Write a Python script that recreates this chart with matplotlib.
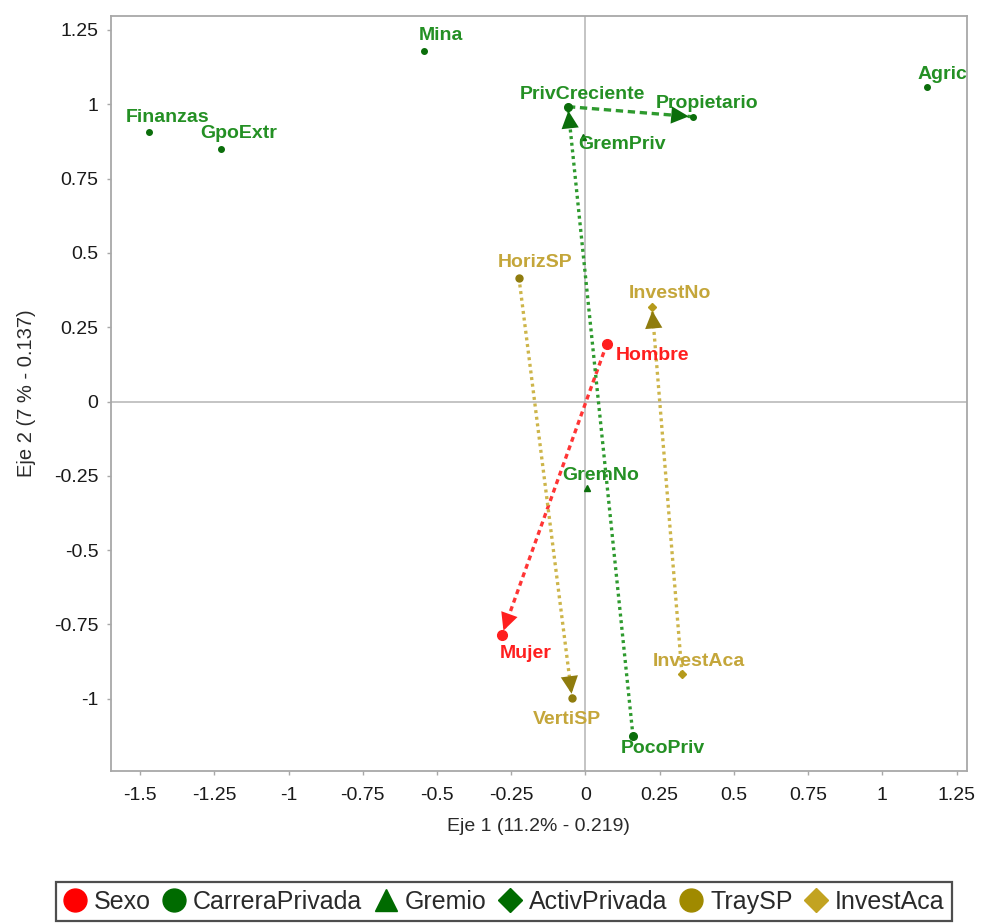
import matplotlib
matplotlib.use('Agg')
import matplotlib.pyplot as plt
from matplotlib.lines import Line2D
from matplotlib.ticker import MultipleLocator, FuncFormatter

plt.rcParams['font.family'] = ['Liberation Sans', 'DejaVu Sans']
plt.rcParams['axes.unicode_minus'] = False

# coordenadas de las modalidades (eje 1, eje 2)
sexo_names = ['Hombre', 'Mujer']
sexo_x = [0.072, -0.281]
sexo_y = [0.194, -0.784]

carrera_names = ['PrivCreciente', 'PocoPriv']
carrera_x = [-0.059, 0.160]
carrera_y = [0.992, -1.125]

gremio_names = ['GremPriv', 'GremNo']
gremio_x = [-0.008, 0.005]
gremio_y = [0.891, -0.290]

activ_names = ['Finanzas', 'GpoExtr', 'Mina', 'Propietario', 'Agric']
activ_x = [-1.470, -1.227, -0.544, 0.362, 1.150]
activ_y = [0.907, 0.850, 1.180, 0.958, 1.059]

tray_names = ['HorizSP', 'VertiSP']
tray_x = [-0.224, -0.045]
tray_y = [0.416, -0.997]

invest_names = ['InvestNo', 'InvestAca']
invest_x = [0.224, 0.325]
invest_y = [0.319, -0.916]

# trayectorias (desde, hasta)
paths = [('Hombre', 'Mujer'), ('PocoPriv', 'PrivCreciente'),
         ('PrivCreciente', 'Propietario'), ('HorizSP', 'VertiSP'),
         ('InvestAca', 'InvestNo')]

legend_names = ['Sexo', 'CarreraPrivada', 'Gremio', 'ActivPrivada', 'TraySP', 'InvestAca']

RED = '#ff1f1f'
GREEN = '#0b6e0b'
GREEN_TXT = '#249024'
OLIVE = '#8f7c0e'
OLIVE2 = '#b59a1c'
OLIVE_TXT = '#c4a63a'

# label offsets in pixels (label centre - point)
label_off = {'Finanzas': (19, 14), 'GpoExtr': (18, 15), 'Mina': (17, 15),
             'PrivCreciente': (14, 12), 'Propietario': (14, 13), 'Agric': (16, 12),
             'GremPriv': (39, -8), 'HorizSP': (16, 15), 'InvestNo': (18, 13),
             'Hombre': (46, -12), 'GremNo': (14, 12), 'Mujer': (24, -19),
             'InvestAca': (17, 12), 'VertiSP': (-5, -22), 'PocoPriv': (30, -13)}

groups = [
    (sexo_names, sexo_x, sexo_y, 'o', 7, RED, RED),
    (carrera_names, carrera_x, carrera_y, 'o', 5.5, GREEN, GREEN_TXT),
    (gremio_names, gremio_x, gremio_y, '^', 5, GREEN, GREEN_TXT),
    (activ_names, activ_x, activ_y, 'o', 4, GREEN, GREEN_TXT),
    (tray_names, tray_x, tray_y, 'o', 5, OLIVE, OLIVE_TXT),
    (invest_names, invest_x, invest_y, 'D', 4, OLIVE2, OLIVE_TXT),
]

pos = {}
for names, xs, ys, m, ms, c, tc in groups:
    for n, x, y in zip(names, xs, ys):
        pos[n] = (x, y, c)

path_style = {'Hombre': ('#ff3535', (0, (1.5, 1.2))),
              'PocoPriv': ('#2e9a2e', (0, (0.9, 1.1))),
              'PrivCreciente': ('#2e9a2e', (0, (2.2, 1.4))),
              'HorizSP': ('#cdb54a', (0, (0.9, 1.1))),
              'InvestAca': ('#cdb54a', (0, (0.9, 1.1)))}
head_col = {'Hombre': RED, 'PocoPriv': GREEN, 'PrivCreciente': GREEN,
            'HorizSP': OLIVE, 'InvestAca': OLIVE}

fig = plt.figure(figsize=(9.81, 9.23), dpi=100)
ax = fig.add_axes([110.7 / 981, (923 - 771) / 923, (967 - 110.7) / 981, (771 - 15.7) / 923])

ax.axhline(0, color='#b4b4b4', lw=1.1, zorder=1)
ax.axvline(0, color='#b4b4b4', lw=1.1, zorder=1)

for a, b in paths:
    x0, y0, _ = pos[a]
    x1, y1, _ = pos[b]
    col, ls = path_style[a]
    ax.plot([x0, x1], [y0, y1], color=col, lw=2.4, linestyle=ls, zorder=2)
    ax.annotate('', xy=(x1, y1), xytext=(x0, y0),
                arrowprops=dict(arrowstyle='-|>,head_length=0.55,head_width=0.27',
                                color=head_col[a], lw=0, shrinkA=0, shrinkB=3,
                                mutation_scale=23), zorder=3)

for names, xs, ys, m, ms, c, tc in groups:
    ax.plot(xs, ys, linestyle='none', marker=m, markersize=ms, color=c, zorder=4)
    for n, x, y in zip(names, xs, ys):
        ax.annotate(n, (x, y), xytext=label_off[n], textcoords='offset pixels',
                    ha='center', va='center', fontsize=14, fontweight='bold',
                    color=tc, zorder=5)

ax.set_xlim(-1.599, 1.285)
ax.set_ylim(-1.243, 1.298)
ax.xaxis.set_major_locator(MultipleLocator(0.25))
ax.yaxis.set_major_locator(MultipleLocator(0.25))
fmt = FuncFormatter(lambda v, p: '%g' % round(v, 2))
ax.xaxis.set_major_formatter(fmt)
ax.yaxis.set_major_formatter(fmt)

for s in ax.spines.values():
    s.set_color('#a8a8a8')
    s.set_linewidth(1.3)
ax.tick_params(direction='out', length=3.2, width=1, color='#a8a8a8',
               labelsize=14, labelcolor='#1a1a1a')
ax.tick_params(axis='x', pad=8.5)
ax.tick_params(axis='y', pad=5.5)

ax.set_xlabel('Eje 1 (11.2% - 0.219)', fontsize=14, color='#2a2a2a', labelpad=10)
ax.set_ylabel('Eje 2 (7 % - 0.137)', fontsize=14.5, color='#2a2a2a', labelpad=13)

legend_handles = [
    Line2D([], [], linestyle='none', marker='o', markersize=16.5, color='#ff0000'),
    Line2D([], [], linestyle='none', marker='o', markersize=16.5, color='#006b00'),
    Line2D([], [], linestyle='none', marker='^', markersize=16.5, color='#006b00'),
    Line2D([], [], linestyle='none', marker='D', markersize=12, color='#006b00'),
    Line2D([], [], linestyle='none', marker='o', markersize=16.5, color='#a08a00'),
    Line2D([], [], linestyle='none', marker='D', markersize=12, color='#c2a321'),
]
leg = fig.legend(legend_handles, legend_names, loc='lower center', ncol=6,
                 bbox_to_anchor=(0.514, 0.002), fontsize=18, frameon=True,
                 fancybox=False, handlelength=0.9, handletextpad=0.3,
                 columnspacing=0.5, borderpad=0.3, borderaxespad=0)
leg.get_frame().set_edgecolor('#222222')
leg.get_frame().set_linewidth(1.6)
for t in leg.get_texts():
    t.set_color('#2a2a2a')

fig.savefig('out.png', dpi=100)
